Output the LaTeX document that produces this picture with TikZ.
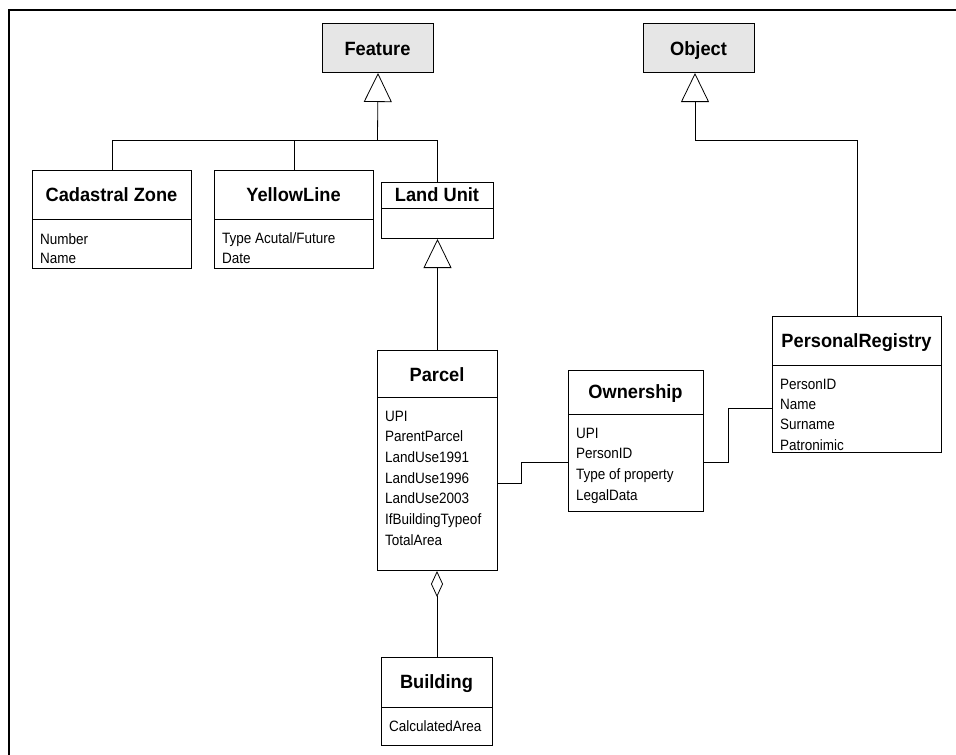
\documentclass[tikz,border=0pt]{standalone}
\usepackage{fontspec}
\setmainfont{Liberation Sans}
\newfontfamily\narrowtitle[FakeStretch=0.95]{Liberation Sans}
\newfontfamily\narrowattr[FakeStretch=0.9]{Liberation Sans}
\usetikzlibrary{arrows.meta}
\definecolor{headgray}{HTML}{E6E6E6}
\begin{document}
\begin{tikzpicture}[x=1pt,y=-1pt,
  box/.style={draw, line width=1pt, inner sep=0pt, anchor=north west},
  ttl/.style={font=\narrowtitle\fontsize{19.2}{20}\selectfont\bfseries, anchor=base, inner sep=0pt},
  attr/.style={font=\narrowattr\fontsize{15}{16}\selectfont, anchor=base west, inner sep=0pt},
  link/.style={draw, line width=0.8pt},
  gen/.style={link, -{Triangle[open, length=29pt, width=28pt, line width=0.8pt]}},
  agg/.style={link, -{Diamond[open, length=26pt, width=12pt, line width=0.8pt]}},
  divider/.style={line width=1pt}]
\useasboundingbox (0,0) rectangle (956,755);

% frame
\draw[line width=2pt] (956,10) -- (9,10) -- (9,755);

% root classes
\node[box, fill=headgray, minimum width=111pt, minimum height=49pt] (feat) at (322,23) {};
\node[ttl] (feat-t) at (377.5,55) {Feature};
\node[box, fill=headgray, minimum width=111pt, minimum height=49pt] (obj) at (643,23) {};
\node[ttl] (obj-t) at (698.5,55) {Object};

% Cadastral Zone
\node[box, minimum width=159pt, minimum height=98pt] (cz) at (32,170) {};
\draw[divider] (cz.west |- 0,219) -- (cz.east |- 0,219);
\node[ttl] (cz-t) at (111.5,201) {Cadastral Zone};
\node[attr] (cz-a1) at (40,244) {Number};
\node[attr] (cz-a2) at (40,263) {Name};

% YellowLine
\node[box, minimum width=159pt, minimum height=98pt] (yl) at (214,170) {};
\draw[divider] (yl.west |- 0,219) -- (yl.east |- 0,219);
\node[ttl] (yl-t) at (293.5,201) {YellowLine};
\node[attr] (yl-a1) at (222,243.5) {Type Acutal/Future};
\node[attr] (yl-a2) at (222,263) {Date};

% Land Unit
\node[box, minimum width=112pt, minimum height=56pt] (lu) at (381,182) {};
\draw[divider] (lu.west |- 0,208) -- (lu.east |- 0,208);
\node[ttl] (lu-t) at (437,201.5) {Land Unit};

% Parcel
\node[box, minimum width=120pt, minimum height=220pt] (parcel) at (377,350) {};
\draw[divider] (parcel.west |- 0,397) -- (parcel.east |- 0,397);
\node[ttl] (parcel-t) at (437,381) {Parcel};
\node[attr] (parcel-a1) at (385,421) {UPI};
\node[attr] (parcel-a2) at (385,441.7) {ParentParcel};
\node[attr] (parcel-a3) at (385,462.4) {LandUse1991};
\node[attr] (parcel-a4) at (385,483.1) {LandUse1996};
\node[attr] (parcel-a5) at (385,503.8) {LandUse2003};
\node[attr] (parcel-a6) at (385,524.5) {IfBuildingTypeof};
\node[attr] (parcel-a7) at (385,545.2) {TotalArea};

% Building
\node[box, minimum width=111pt, minimum height=88pt] (bld) at (381,657) {};
\draw[divider] (bld.west |- 0,707) -- (bld.east |- 0,707);
\node[ttl] (bld-t) at (436.5,688) {Building};
\node[attr] (bld-a1) at (389,731) {CalculatedArea};

% Ownership
\node[box, minimum width=135pt, minimum height=141pt] (own) at (568,370) {};
\draw[divider] (own.west |- 0,414) -- (own.east |- 0,414);
\node[ttl] (own-t) at (635.5,398) {Ownership};
\node[attr] (own-a1) at (576,438) {UPI};
\node[attr] (own-a2) at (576,458.7) {PersonID};
\node[attr] (own-a3) at (576,479.4) {Type of property};
\node[attr] (own-a4) at (576,500.1) {LegalData};

% PersonalRegistry
\node[box, minimum width=169pt, minimum height=136pt] (pr) at (772,316) {};
\draw[divider] (pr.west |- 0,365) -- (pr.east |- 0,365);
\node[ttl] (pr-t) at (856.5,347) {PersonalRegistry};
\node[attr] (pr-a1) at (780,389) {PersonID};
\node[attr] (pr-a2) at (780,409) {Name};
\node[attr] (pr-a3) at (780,429.5) {Surname};
\node[attr] (pr-a4) at (780,450) {Patronimic};

% generalisation to Feature
\coordinate (fbus) at (377.5,140);
\draw[gen] (fbus) -- (feat.south);
\draw[link] (cz.north) |- (fbus);
\draw[link] (yl.north) |- (fbus);
\draw[link] (lu.north) |- (fbus);

% generalisation to Object
\coordinate (obus) at (695,140);
\draw[gen] (obus) -- (obus |- obj.south);
\draw[link] (pr.north) |- (obus);

% Parcel is a Land Unit
\draw[gen] (parcel.north) -- (lu.south);

% Parcel aggregates Building
\draw[agg] (bld.north) -- (bld.north |- parcel.south);

% associations
\draw[link] (parcel.east |- 0,483) -- ++(23,0) |- (own.west |- 0,462);
\draw[link] (own.east |- 0,462) -- ++(24,0) |- (pr.west |- 0,408);
\end{tikzpicture}
\end{document}
